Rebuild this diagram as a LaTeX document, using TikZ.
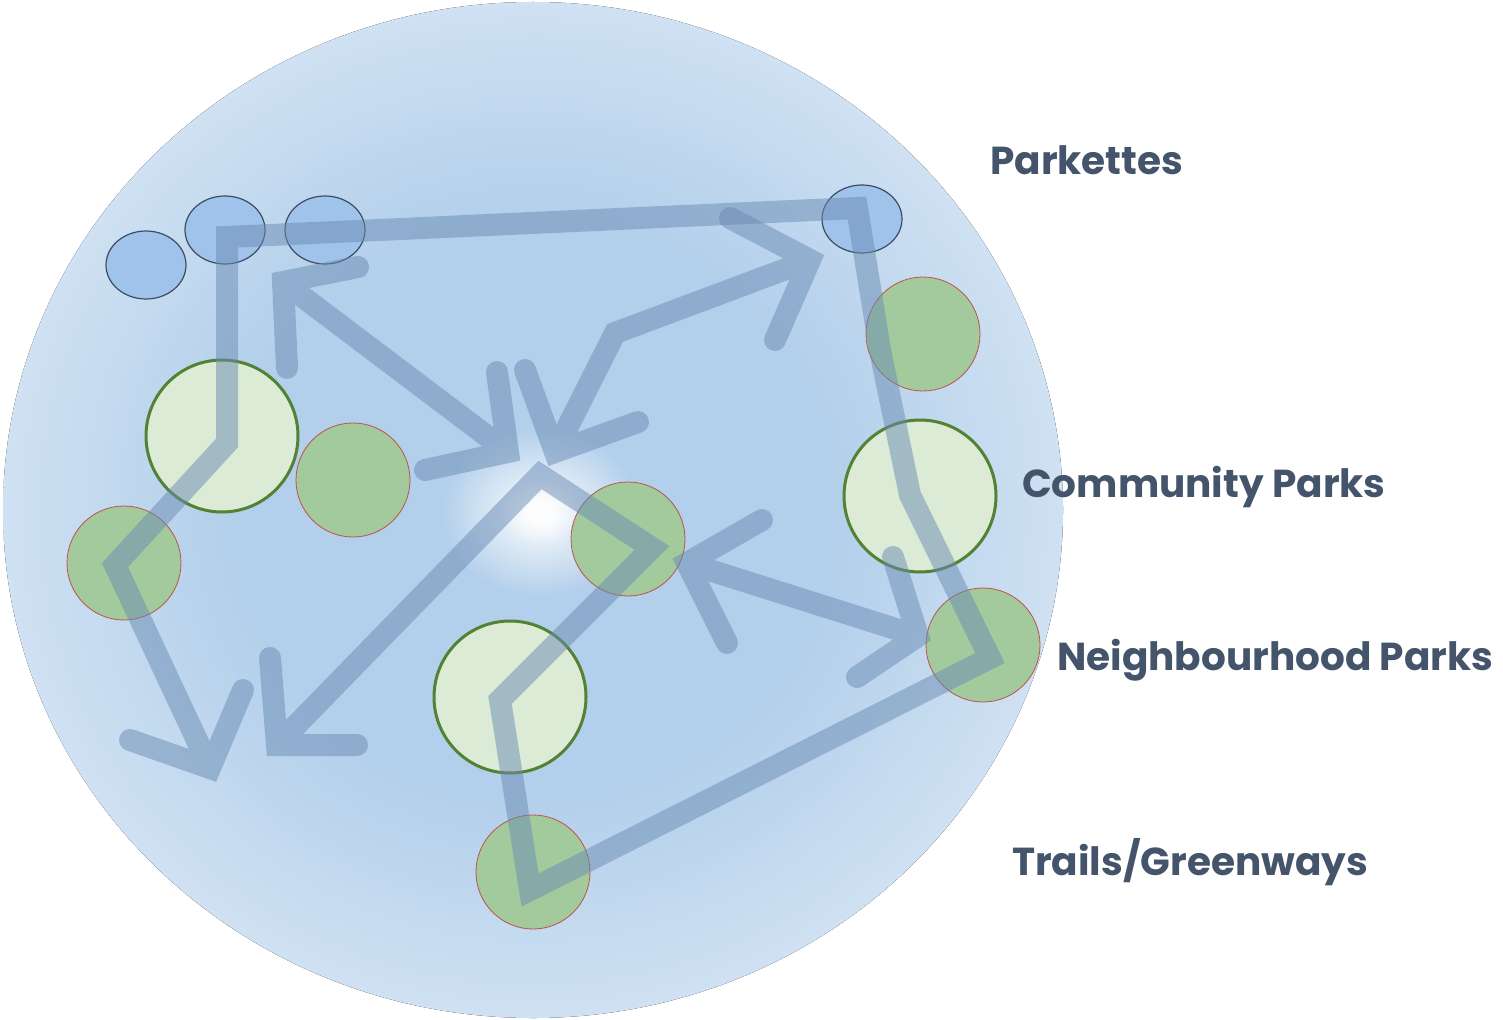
\documentclass[tikz,border=0pt]{standalone}
\usepackage{fontspec}
\newfontfamily\labelfont{Poppins}
\usetikzlibrary{shapes.geometric,fadings}
\definecolor{bgedge}{HTML}{CFE1F2}
\definecolor{bgmid}{HTML}{B2CFEB}
\definecolor{trailblue}{HTML}{6A8BB3}
\definecolor{parkblue}{HTML}{9FC3EA}
\definecolor{parkrim}{HTML}{3E4C62}
\definecolor{nbhdgreen}{HTML}{A3CA9C}
\definecolor{nbhdrim}{HTML}{C0504D}
\definecolor{commgreen}{HTML}{DCEBD6}
\definecolor{commrim}{HTML}{548235}
\definecolor{labelgray}{HTML}{44546A}
\pgfdeclareradialshading{domeshade}{\pgfpoint{0bp}{0bp}}{color(0bp)=(bgmid); color(14bp)=(bgmid); color(25bp)=(bgedge); color(50bp)=(bgedge)}
\tikzfading[name=glowfade, inner color=transparent!0, outer color=transparent!100]
\tikzset{
  parkette/.style={ellipse, draw=parkrim, line width=1.2pt, fill=parkblue, minimum width=80pt, minimum height=68pt, inner sep=0pt},
  nbhd/.style={circle, draw=nbhdrim, line width=0.8pt, fill=nbhdgreen, minimum size=114pt, inner sep=0pt},
  community/.style={circle, draw=commrim, line width=3pt, fill=commgreen, minimum size=152pt, inner sep=0pt},
  trail/.style={draw=trailblue, line width=22pt, draw opacity=0.5, line join=miter, line cap=round},
  tier/.style={anchor=base west, text=labelgray, font=\labelfont\bfseries\fontsize{39}{39}\selectfont, inner sep=0pt}
}
\begin{document}
\begin{tikzpicture}[x=1pt, y=-1pt]
\useasboundingbox (0,0) rectangle (1503,1019);
% the service area
\fill[shading=domeshade] (533,510) ellipse [x radius=530, y radius=508];
\fill[white, path fading=glowfade] (540,512) ellipse [x radius=100, y radius=85];
\fill[white, path fading=glowfade] (540,512) ellipse [x radius=40, y radius=32];
% parks
\foreach \n/\x/\y in {pa/146/265, pb/225/230, pc/325/230, pd/862/219}
  \node[parkette] (\n) at (\x,\y) {};
\foreach \n/\x/\y in {na/923/334, nb/353/480, nc/124/563, nd/628/539, ne/983/645, nf/533/872}
  \node[nbhd] (\n) at (\x,\y) {};
\foreach \n/\x/\y in {ca/222/436, cb/920/496, cc/510/697}
  \node[community] (\n) at (\x,\y) {};
% trail loop
\draw[trail] (130,740) -- (210,768) -- (243,690)
  (210,768) -- (115,565) -- (227,443) -- (227,237) -- (857,208) -- (880,350)
  -- (910,495) -- (990,658) -- (530,890) -- (500,700) -- (652,548)
  -- (540,475) -- (277,745)
  (270,658) -- (277,745) -- (357,745);
% links
\draw[trail] (358,267) -- (283,282) -- (287,368) (283,282) -- (508,452)
  (497,372) -- (508,452) -- (425,470);
\draw[trail] (525,370) -- (555,452) -- (638,422) (555,452) -- (615,333) -- (810,260)
  (730,218) -- (810,260) -- (775,340);
\draw[trail] (762,520) -- (687,563) -- (727,643) (687,563) -- (918,636)
  (893,557) -- (918,636) -- (857,677);
% labels
\node[tier] (lp) at (990,175) {Parkettes};
\node[tier] (lc) at (1022,497) {Community Parks};
\node[tier] (ln) at (1057,670) {Neighbourhood Parks};
\node[tier] (lt) at (1012,875) {Trails/Greenways};
\end{tikzpicture}
\end{document}
